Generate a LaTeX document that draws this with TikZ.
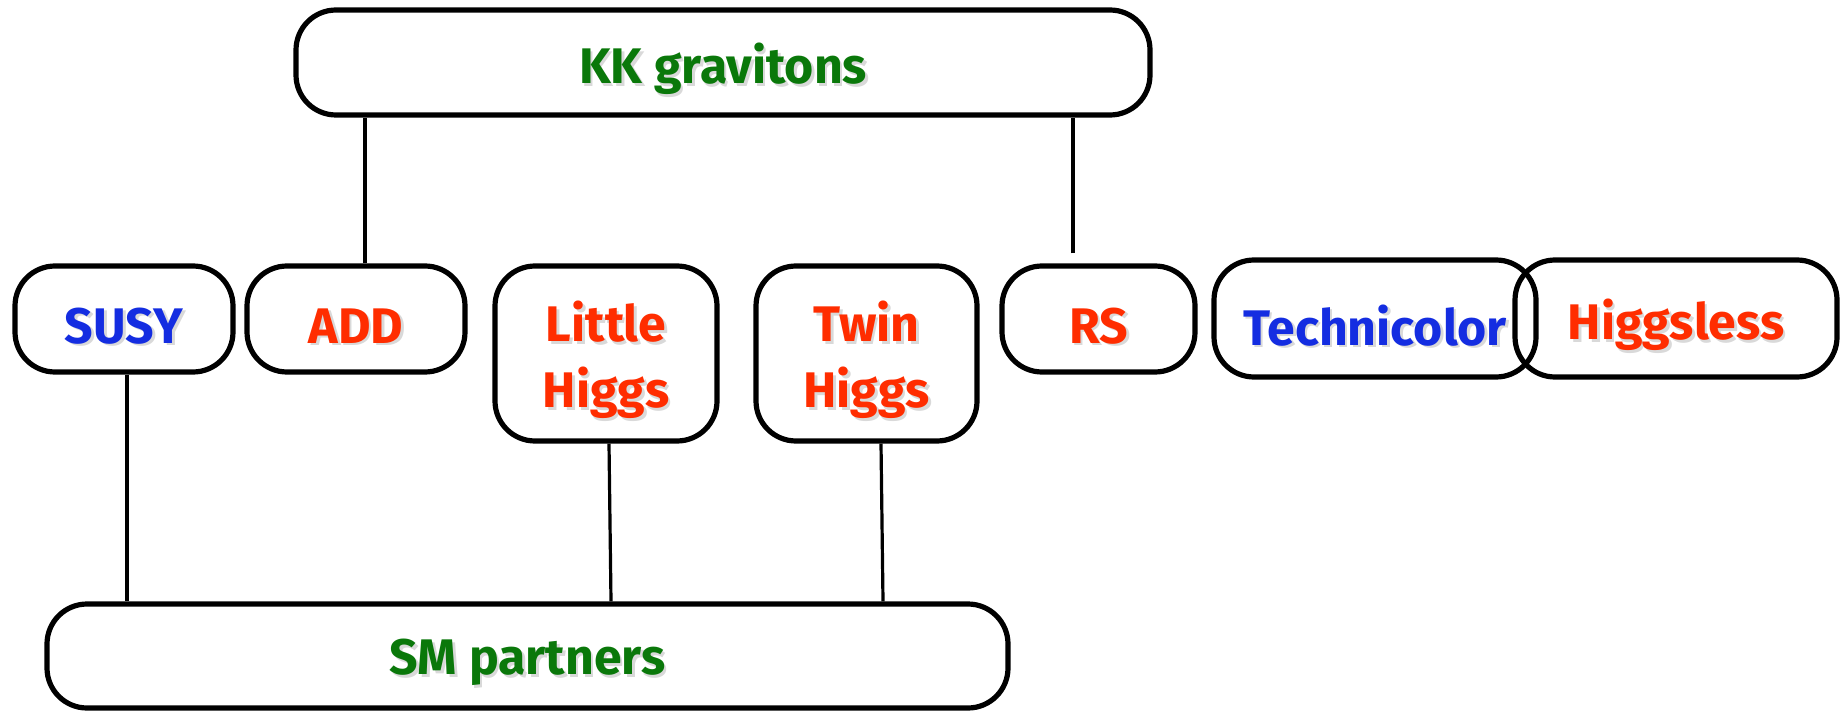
\documentclass[tikz,border=0pt]{standalone}
\usepackage{fontspec}
\setmainfont{Fira Sans}

\definecolor{kkgreen}{RGB}{10,120,10}
\definecolor{modblue}{RGB}{20,45,225}
\definecolor{modred}{RGB}{255,45,0}

% light drop shadow under the labels, set a little low in the box
\newcommand\shadowtext[1]{\raisebox{-4pt}[\height][\depth]{%
  \rlap{\kern1.3pt\raisebox{-1.3pt}{\color{black!15}#1}}#1}}

\tikzset{
  model/.style={draw, line width=2.6pt, rounded corners=20pt, align=center,
    inner sep=0pt, font=\bfseries\fontsize{25}{33}\selectfont},
  link/.style={line width=1.6pt},
}

\begin{document}
\begin{tikzpicture}[x=0.5pt, y=-0.5pt]
  \useasboundingbox (0,0) rectangle (1846,711);

  % Layout the models
  \node[model, minimum width=427pt, minimum height=52.5pt, text=kkgreen] %
    (kk) at (723,62.5) {\shadowtext{KK gravitons}}; %
  \node[model, minimum width=109pt, minimum height=53pt, text=modblue] %
    (susy) at (124,319) {\shadowtext{SUSY}}; %
  \node[model, minimum width=109pt, minimum height=53pt, text=modred] %
    (add) at (356,319) {\shadowtext{ADD}}; %
  \node[model, minimum width=111pt, minimum height=87.5pt, text=modred] %
    (little) at (606,353.5) {\shadowtext{Little}\\\shadowtext{Higgs}}; %
  \node[model, minimum width=110.5pt, minimum height=87.5pt, text=modred] %
    (twin) at (866.5,353.5) {\shadowtext{Twin}\\\shadowtext{Higgs}}; %
  \node[model, minimum width=96.5pt, minimum height=53pt, text=modred] %
    (rs) at (1098.5,319) {\shadowtext{RS}}; %
  \node[model, minimum width=161pt, minimum height=58.5pt, text=modblue] %
    (techni) at (1375,318.5) {\shadowtext{Technicolor}}; %
  \node[model, minimum width=161pt, minimum height=58.5pt, text=modred] %
    (higgsless) at (1676,318.5) {\shadowtext{Higgsless}}; %
  \node[model, minimum width=480.5pt, minimum height=52pt, text=kkgreen] %
    (sm) at (527.5,656) {\shadowtext{SM partners}}; %

  % Links to the KK gravitons
  \draw[link] ([xshift=4.5pt]add.north) -- ([xshift=4.5pt]add.north |- kk.south); %
  \draw[link, shorten <=5pt] ([xshift=-12.75pt]rs.north) %
    -- ([xshift=-12.75pt]rs.north |- kk.south); %

  % Links to the SM partners
  \draw[link] ([xshift=1.5pt]susy.south) -- ([xshift=1.5pt]susy.south |- sm.north); %
  \draw[link] ([xshift=1.5pt]little.south) -- ([xshift=2.5pt]little.south |- sm.north); %
  \draw[link] ([xshift=7.25pt]twin.south) -- ([xshift=8.25pt]twin.south |- sm.north); %

\end{tikzpicture}
\end{document}
